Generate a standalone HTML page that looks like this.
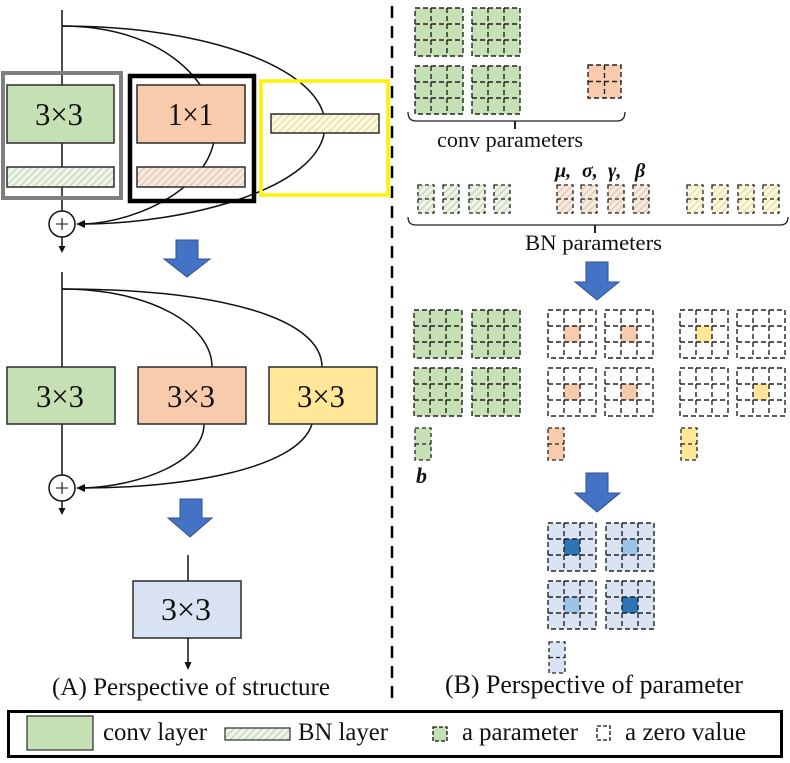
<!DOCTYPE html>
<html>
<head>
<meta charset="utf-8">
<style>
html,body{margin:0;padding:0;background:#fff;}
svg{display:block;}
text{font-family:"Liberation Serif","Times New Roman",serif;fill:#111;}
</style>
</head>
<body>
<svg width="790" height="763" viewBox="0 0 790 763" xmlns="http://www.w3.org/2000/svg">
<defs>
  <pattern id="hg" patternUnits="userSpaceOnUse" width="5" height="5" patternTransform="rotate(45)">
    <rect width="5" height="5" fill="#eff4ea"/><rect width="1.6" height="5" fill="#c9dbb9"/>
  </pattern>
  <pattern id="ho" patternUnits="userSpaceOnUse" width="5" height="5" patternTransform="rotate(45)">
    <rect width="5" height="5" fill="#f6ebe1"/><rect width="1.6" height="5" fill="#e8cbb3"/>
  </pattern>
  <pattern id="hy" patternUnits="userSpaceOnUse" width="5" height="5" patternTransform="rotate(45)">
    <rect width="5" height="5" fill="#fdfae3"/><rect width="1.6" height="5" fill="#e9e1a6"/>
  </pattern>
  <g id="g3" fill="none" stroke="#222" stroke-width="1.4" stroke-dasharray="5,3">
    <rect x="0" y="0" width="48" height="48"/>
    <path d="M16,0V48M32,0V48M0,16H48M0,32H48"/>
  </g>
  <g id="g12" fill="none" stroke="#222" stroke-width="1.3" stroke-dasharray="4,3">
    <rect x="0" y="0" width="16" height="28"/>
    <path d="M0,14H16"/>
  </g>
  <g id="gb" fill="none" stroke="#222" stroke-width="1.3" stroke-dasharray="4,3">
    <rect x="0" y="0" width="16" height="32"/>
    <path d="M0,16H16"/>
  </g>
</defs>

<!-- divider -->
<line x1="392" y1="6" x2="392" y2="706" stroke="#000" stroke-width="2.5" stroke-dasharray="12,8"/>

<!-- ===== LEFT: block 1 ===== -->
<line x1="62" y1="10" x2="62" y2="211" stroke="#111" stroke-width="1.5"/>
<path d="M62,26 C160,26 215,80 215,130 C215,185 140,222 84,224" fill="none" stroke="#111" stroke-width="1.5"/>
<path d="M62,26 C210,26 325,70 325,125 C325,190 180,224 84,224" fill="none" stroke="#111" stroke-width="1.5"/>
<polygon points="76,224 85,220 85,228" fill="#111"/>

<rect x="3" y="73" width="118" height="125" fill="none" stroke="#7f7f7f" stroke-width="4"/>
<rect x="130" y="76" width="124" height="125" fill="none" stroke="#000" stroke-width="4.5"/>
<rect x="261" y="81" width="127" height="114" fill="none" stroke="#fff200" stroke-width="3.5"/>

<rect x="7" y="85" width="107" height="58" fill="#c5e0b4" stroke="#2b2b2b" stroke-width="1.5"/>
<text x="35" y="125" font-size="32" textLength="48" lengthAdjust="spacingAndGlyphs">3×3</text>
<rect x="7" y="167" width="107" height="20" fill="url(#hg)" stroke="#2b2b2b" stroke-width="1.5"/>

<rect x="137" y="85" width="108" height="58" fill="#f8cbad" stroke="#2b2b2b" stroke-width="1.5"/>
<text x="168" y="125" font-size="32" textLength="45" lengthAdjust="spacingAndGlyphs">1×1</text>
<rect x="137" y="167" width="108" height="20" fill="url(#ho)" stroke="#2b2b2b" stroke-width="1.5"/>

<rect x="271" y="114" width="108" height="19" fill="url(#hy)" stroke="#2b2b2b" stroke-width="1.5"/>

<circle cx="62" cy="224" r="13" fill="#fff" stroke="#111" stroke-width="1.5"/>
<path d="M56,224H68M62,218V230" stroke="#111" stroke-width="1.1"/>
<line x1="62" y1="237" x2="62" y2="247" stroke="#111" stroke-width="1.5"/>
<polygon points="58.5,246 65.5,246 62,253" fill="#111"/>

<!-- blue arrow 1 -->
<polygon points="176,240 198,240 198,259 210,259 187,277 164,259 176,259" fill="#4472c4" stroke="#2f528f" stroke-width="1"/>

<!-- ===== block 2 ===== -->
<line x1="62" y1="272" x2="62" y2="475" stroke="#111" stroke-width="1.5"/>
<path d="M62,289 C150,289 212,325 212,367" fill="none" stroke="#111" stroke-width="1.5"/>
<path d="M62,289 C220,289 322,318 322,367" fill="none" stroke="#111" stroke-width="1.5"/>
<path d="M204,424 C204,462 140,486 84,488" fill="none" stroke="#111" stroke-width="1.5"/>
<path d="M312,424 C298,470 180,488 84,488" fill="none" stroke="#111" stroke-width="1.5"/>
<polygon points="76,488 85,484 85,492" fill="#111"/>

<rect x="7" y="367" width="108" height="57" fill="#c5e0b4" stroke="#2b2b2b" stroke-width="1.5"/>
<text x="36" y="407" font-size="32" textLength="48" lengthAdjust="spacingAndGlyphs">3×3</text>
<rect x="138" y="367" width="108" height="57" fill="#f8cbad" stroke="#2b2b2b" stroke-width="1.5"/>
<text x="167" y="407" font-size="32" textLength="48" lengthAdjust="spacingAndGlyphs">3×3</text>
<rect x="269" y="367" width="108" height="57" fill="#ffe699" stroke="#2b2b2b" stroke-width="1.5"/>
<text x="297" y="407" font-size="32" textLength="48" lengthAdjust="spacingAndGlyphs">3×3</text>

<circle cx="62" cy="488" r="13" fill="#fff" stroke="#111" stroke-width="1.5"/>
<path d="M56,488H68M62,482V494" stroke="#111" stroke-width="1.1"/>
<line x1="62" y1="501" x2="62" y2="509" stroke="#111" stroke-width="1.5"/>
<polygon points="58.5,508 65.5,508 62,515" fill="#111"/>

<!-- blue arrow 2 -->
<polygon points="180,499 202,499 202,518 212,518 190,537 168,518 180,518" fill="#4472c4" stroke="#2f528f" stroke-width="1"/>

<!-- ===== block 3 ===== -->
<line x1="188" y1="555" x2="188" y2="581" stroke="#111" stroke-width="1.5"/>
<rect x="133" y="581" width="108" height="57" fill="#dae3f3" stroke="#2b2b2b" stroke-width="1.5"/>
<text x="161" y="620" font-size="32" textLength="50" lengthAdjust="spacingAndGlyphs">3×3</text>
<line x1="188" y1="638" x2="188" y2="663" stroke="#111" stroke-width="1.5"/>
<polygon points="184.5,662 191.5,662 188,670" fill="#111"/>

<text x="52" y="695" font-size="25" textLength="278" lengthAdjust="spacingAndGlyphs">(A) Perspective of structure</text>

<!-- ===== RIGHT ===== -->
<rect x="415" y="8" width="48" height="48" fill="#c5e0b4"/><use href="#g3" x="415" y="8"/>
<rect x="472" y="8" width="48" height="48" fill="#c5e0b4"/><use href="#g3" x="472" y="8"/>
<rect x="415" y="66" width="48" height="48" fill="#c5e0b4"/><use href="#g3" x="415" y="66"/>
<rect x="472" y="66" width="48" height="48" fill="#c5e0b4"/><use href="#g3" x="472" y="66"/>
<rect x="588" y="65" width="33" height="33" fill="#f8cbad"/>
<g fill="none" stroke="#222" stroke-width="1.4" stroke-dasharray="5,3">
  <rect x="588" y="65" width="33" height="33"/><path d="M604.5,65V98M588,81.5H621"/>
</g>
<path d="M408,112 Q408,121 416,121 L617,121 Q625,121 625,112" fill="none" stroke="#222" stroke-width="1.3"/>
<line x1="515" y1="121" x2="515" y2="129" stroke="#222" stroke-width="2"/>
<text x="437" y="147" font-size="22.5" textLength="146" lengthAdjust="spacingAndGlyphs">conv parameters</text>

<!-- greek -->
<g font-size="20" font-weight="bold" font-style="italic">
  <text x="555" y="177">μ,</text>
  <text x="582" y="177">σ,</text>
  <text x="608" y="177">γ,</text>
  <text x="635" y="177">β</text>
</g>

<!-- BN params -->
<rect x="418" y="185" width="16" height="28" fill="url(#hg)"/><use href="#g12" x="418" y="185"/>
<rect x="443" y="185" width="16" height="28" fill="url(#hg)"/><use href="#g12" x="443" y="185"/>
<rect x="469" y="185" width="16" height="28" fill="url(#hg)"/><use href="#g12" x="469" y="185"/>
<rect x="494" y="185" width="16" height="28" fill="url(#hg)"/><use href="#g12" x="494" y="185"/>
<rect x="557" y="185" width="16" height="28" fill="url(#ho)"/><use href="#g12" x="557" y="185"/>
<rect x="581" y="185" width="16" height="28" fill="url(#ho)"/><use href="#g12" x="581" y="185"/>
<rect x="608" y="185" width="16" height="28" fill="url(#ho)"/><use href="#g12" x="608" y="185"/>
<rect x="633" y="185" width="16" height="28" fill="url(#ho)"/><use href="#g12" x="633" y="185"/>
<rect x="687" y="185" width="16" height="28" fill="url(#hy)"/><use href="#g12" x="687" y="185"/>
<rect x="712" y="185" width="16" height="28" fill="url(#hy)"/><use href="#g12" x="712" y="185"/>
<rect x="738" y="185" width="16" height="28" fill="url(#hy)"/><use href="#g12" x="738" y="185"/>
<rect x="763" y="185" width="16" height="28" fill="url(#hy)"/><use href="#g12" x="763" y="185"/>

<path d="M408,217 Q408,225 416,225 L780,225 Q788,225 788,217" fill="none" stroke="#222" stroke-width="1.3"/>
<line x1="595" y1="225" x2="595" y2="233" stroke="#222" stroke-width="2"/>
<text x="525" y="250" font-size="22.5" textLength="137" lengthAdjust="spacingAndGlyphs">BN parameters</text>

<!-- blue arrow 3 -->
<polygon points="586,262 608,262 608,282 619,282 597,300 575,282 586,282" fill="#4472c4" stroke="#2f528f" stroke-width="1"/>

<!-- middle grids -->
<rect x="414" y="310" width="48" height="48" fill="#c5e0b4"/><use href="#g3" x="414" y="310"/>
<rect x="472" y="310" width="48" height="48" fill="#c5e0b4"/><use href="#g3" x="472" y="310"/>
<rect x="414" y="368" width="48" height="48" fill="#c5e0b4"/><use href="#g3" x="414" y="368"/>
<rect x="472" y="368" width="48" height="48" fill="#c5e0b4"/><use href="#g3" x="472" y="368"/>

<rect x="564" y="326" width="16" height="16" fill="#f8cbad"/><use href="#g3" x="548" y="310"/>
<rect x="621" y="326" width="16" height="16" fill="#f8cbad"/><use href="#g3" x="605" y="310"/>
<rect x="564" y="384" width="16" height="16" fill="#f8cbad"/><use href="#g3" x="548" y="368"/>
<rect x="621" y="384" width="16" height="16" fill="#f8cbad"/><use href="#g3" x="605" y="368"/>

<rect x="696" y="326" width="16" height="16" fill="#ffe699"/><use href="#g3" x="680" y="310"/>
<use href="#g3" x="737" y="310"/>
<use href="#g3" x="680" y="368"/>
<rect x="753" y="384" width="16" height="16" fill="#ffe699"/><use href="#g3" x="737" y="368"/>

<rect x="415" y="428" width="16" height="32" fill="#c5e0b4"/><use href="#gb" x="415" y="428"/>
<rect x="548" y="428" width="16" height="32" fill="#f8cbad"/><use href="#gb" x="548" y="428"/>
<rect x="681" y="428" width="16" height="32" fill="#ffe699"/><use href="#gb" x="681" y="428"/>
<text x="416" y="483" font-size="22" font-weight="bold" font-style="italic">b</text>

<!-- blue arrow 4 -->
<polygon points="586,473 608,473 608,493 620,493 597,512 575,493 586,493" fill="#4472c4" stroke="#2f528f" stroke-width="1"/>

<!-- final grids -->
<rect x="548" y="523" width="48" height="48" fill="#dae3f3"/><rect x="564" y="539" width="16" height="16" fill="#2e75b6"/><use href="#g3" x="548" y="523"/>
<rect x="606" y="523" width="48" height="48" fill="#dae3f3"/><rect x="622" y="539" width="16" height="16" fill="#9dc3e6"/><use href="#g3" x="606" y="523"/>
<rect x="548" y="581" width="48" height="48" fill="#dae3f3"/><rect x="564" y="597" width="16" height="16" fill="#9dc3e6"/><use href="#g3" x="548" y="581"/>
<rect x="606" y="581" width="48" height="48" fill="#dae3f3"/><rect x="622" y="597" width="16" height="16" fill="#2e75b6"/><use href="#g3" x="606" y="581"/>
<rect x="549" y="642" width="16" height="31" fill="#dae3f3"/>
<g fill="none" stroke="#222" stroke-width="1.3" stroke-dasharray="4,3"><rect x="549" y="642" width="16" height="31"/><path d="M549,657.5H565"/></g>

<text x="445" y="693" font-size="26" textLength="298" lengthAdjust="spacingAndGlyphs">(B) Perspective of parameter</text>

<!-- ===== LEGEND ===== -->
<rect x="8.5" y="711.5" width="773" height="45" fill="#fff" stroke="#000" stroke-width="3"/>
<rect x="27" y="716" width="66" height="34" fill="#c5e0b4" stroke="#2b2b2b" stroke-width="1.2"/>
<text x="103" y="740" font-size="25" textLength="104" lengthAdjust="spacingAndGlyphs">conv layer</text>
<rect x="225" y="728" width="65" height="12" fill="url(#hg)" stroke="#2b2b2b" stroke-width="1.2"/>
<text x="298" y="740" font-size="25" textLength="90" lengthAdjust="spacingAndGlyphs">BN layer</text>
<rect x="433" y="727" width="14" height="14" fill="#c5e0b4" stroke="#111" stroke-width="1.3" stroke-dasharray="4,2"/>
<text x="462" y="740" font-size="25" textLength="116" lengthAdjust="spacingAndGlyphs">a parameter</text>
<rect x="597" y="726" width="13" height="14" fill="#fff" stroke="#111" stroke-width="1.3" stroke-dasharray="4,2"/>
<text x="625" y="740" font-size="25" textLength="121" lengthAdjust="spacingAndGlyphs">a zero value</text>
</svg>
</body>
</html>
